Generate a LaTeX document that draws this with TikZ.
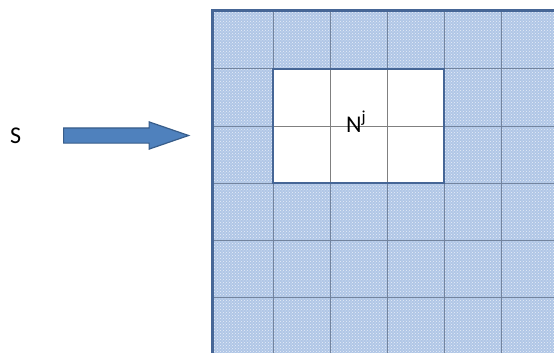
\documentclass[tikz,border=0pt]{standalone}
\usepackage{fontspec}
\setmainfont{Carlito}
\usetikzlibrary{patterns,shapes.arrows}
\definecolor{cellblue}{RGB}{176,198,230}
\definecolor{gridline}{RGB}{115,132,158}
\definecolor{edgeblue}{RGB}{70,102,150}
\definecolor{arrowfill}{RGB}{79,129,189}
\definecolor{arrowedge}{RGB}{56,93,138}
\tikzset{
  lbl/.style={font=\fontsize{24}{28}\selectfont, inner sep=0pt},
  bigarrow/.style={single arrow, fill=arrowfill, draw=arrowedge, line width=1.2pt,
    minimum height=125pt, inner xsep=0pt, inner ysep=7pt,
    single arrow head extend=6pt, single arrow tip angle=38},
}

\begin{document}
\begin{tikzpicture}[x=1pt,y=-1pt]
	%%%%% START %%%%%
	\useasboundingbox (0,0) rectangle (554,353);
	\clip (0,0) rectangle (554,353);
	
	% shaded field
	\fill[cellblue] (213,11) rectangle (570,370);
	\fill[pattern=crosshatch dots, pattern color=white!70!cellblue] (213,11) rectangle (570,370);
	\foreach \gx in {273,330,387,444,501,558}
		\draw[gridline, line width=1pt] (\gx,11) -- (\gx,370);
	\foreach \gy in {69,126,183,240,297,354}
		\draw[gridline, line width=1pt] (213,\gy) -- (570,\gy);
	
	% neighbourhood cells
	\fill[white] (273,69) rectangle (444,183);
	\draw[gray, line width=1pt] (330,69) -- (330,183);
	\draw[gray, line width=1pt] (387,69) -- (387,183);
	\draw[gray, line width=1pt] (273,126) -- (444,126);
	\draw[edgeblue, line width=1.2pt] (273,69) rectangle (444,183);
	\node[lbl, anchor=base west] (nj) at (346,132) {N\textsuperscript{j}};
	
	% outer edge
	\draw[edgeblue, line width=3pt] (212,370) -- (212,10.5) -- (570,10.5);
	
	% input
	\node[lbl, anchor=base west] (s) at (10,143) {S};
	\node[bigarrow, anchor=tail] (feed) at (63,135.5) {};
	%%%%% END %%%%%
\end{tikzpicture}
\end{document}
